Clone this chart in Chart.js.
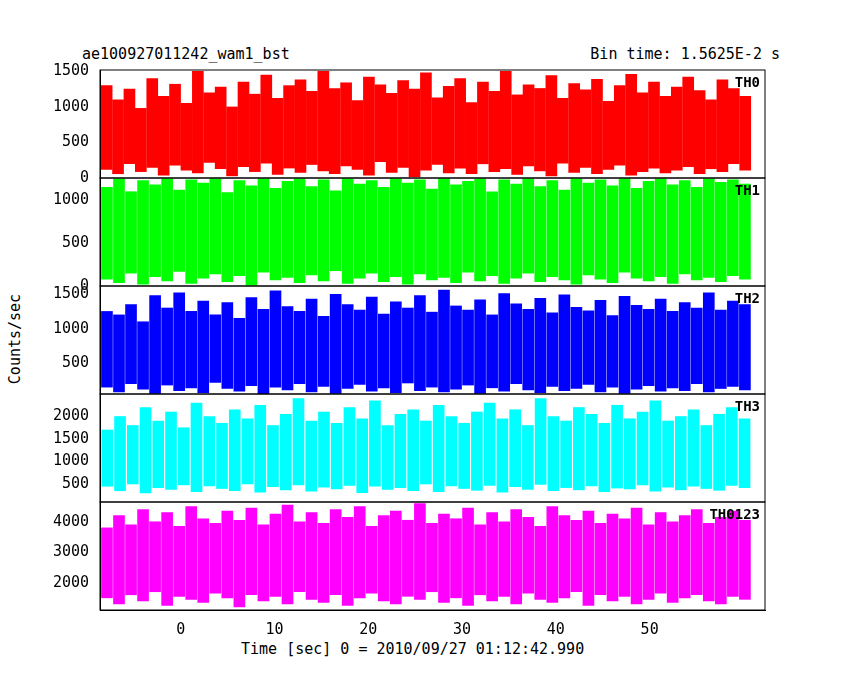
<!DOCTYPE html><html><head><meta charset="utf-8">
<script src="https://cdn.jsdelivr.net/npm/chart.js@4"></script>
<style>body{margin:0;background:#fff;width:850px;height:680px;position:relative;overflow:hidden;font-family:"DejaVu Sans Mono",monospace}
.t{position:absolute;font-size:15px;color:#000;white-space:nowrap}</style></head><body>
<div class="t" style="left:82px;top:45px">ae100927011242_wam1_bst</div>
<div class="t" style="right:70px;top:45px">Bin time: 1.5625E-2 s</div>
<div class="t" style="left:241px;top:640px">Time [sec] 0 = 2010/09/27 01:12:42.990</div>
<div class="t" style="left:-30px;top:330px;transform:rotate(-90deg)">Counts/sec</div>
<canvas id="c" width="850" height="680" style="position:absolute;left:0;top:0"></canvas>
<script>
const panelNames=["TH0","TH1","TH2","TH3","TH0123"];
const colors=["#ff0000","#00ff00","#0000ff","#00ffff","#ff00ff"];
const yMin=[0,0,50,100,1100], yMax=[1520,1260,1620,2500,4650];
const yTicks=[[0,500,1000,1500],[0,500,1000],[500,1000,1500],[500,1000,1500,2000],[2000,3000,4000]];
const tStart=-8.5, tEnd=60.8;
const th0=[1300,120,1100,60,1250,200,980,90,1400,150,1150,40,1320,180,1050,110,1500,70,1200,220,1280,130,1000,30,1350,160,1180,90,1450,210,1120,50,1300,140,1380,80,1220,190,1500,100,1260,60,1340,170,1090,120,1420,40,1310,230,1190,80,1370,150,1250,20,1480,110,1130,190,1290,70,1400,140,1060,60,1350,200,1220,90,1500,130,1170,50,1310,170,1260,100,1440,30,1120,210,1330,80,1240,150,1390,60,1080,120,1300,180,1460,40,1200,90,1350,140,1150,70,1280,110,1420,160,1230,60,1100,130,1380,90,1260,200,1150,110];
const th1=[1150,80,1250,40,1100,150,1230,20,1180,110,1250,60,1120,170,1240,30,1200,90,1250,140,1090,50,1230,120,1170,10,1250,160,1140,70,1220,100,1250,40,1160,130,1240,60,1110,180,1250,30,1190,90,1230,150,1150,50,1250,110,1200,20,1240,140,1130,70,1250,100,1180,40,1220,160,1250,60,1100,120,1240,30,1190,90,1250,150,1160,50,1230,110,1120,70,1250,20,1200,130,1240,80,1170,40,1250,160,1140,90,1220,60,1250,110,1180,30,1230,140,1150,70,1250,100,1210,50,1240,120,1190,80];
const th2=[1250,150,1200,80,1350,200,1100,120,1480,60,1300,180,1520,100,1250,140,1400,70,1200,220,1380,130,1150,90,1450,170,1280,50,1550,150,1320,110,1250,200,1430,80,1180,160,1500,60,1350,130,1270,190,1460,90,1210,140,1390,70,1300,210,1480,100,1240,150,1560,80,1330,120,1270,180,1420,60,1200,140,1510,90,1360,200,1280,110,1440,70,1230,160,1490,100,1310,130,1260,190,1410,80,1190,150,1470,60,1340,120,1280,170,1430,90,1250,140,1380,100,1300,200,1520,80,1270,130,1400,160,1350,110];
const th3=[1700,450,2000,350,1800,500,2200,300,1900,420,2100,380,1750,480,2300,330,2000,460,1850,400,2150,350,1950,500,2250,320,1800,440,2050,370,2400,480,1900,340,2100,430,1850,390,2200,470,1950,310,2350,450,1800,380,2050,420,2150,350,1900,500,2250,330,2000,460,1850,400,2100,360,2300,470,1950,320,2150,440,1800,380,2400,490,2000,350,1900,420,2200,370,2050,460,1850,330,2250,410,1950,390,2100,480,2350,340,1900,430,2000,370,2150,450,1800,400,2050,360,2200,470,1950,420];
const th0123=[3800,1500,4200,1300,3900,1600,4400,1400,4000,1700,4300,1250,3850,1550,4500,1450,4100,1350,3950,1650,4350,1500,4050,1200,4450,1600,3900,1400,4250,1550,4550,1300,4000,1700,4300,1450,3950,1350,4400,1600,4150,1250,4500,1500,3850,1650,4200,1400,4350,1300,4050,1550,4600,1450,3950,1700,4250,1350,4100,1500,4450,1250,3900,1600,4300,1400,4000,1550,4400,1300,4150,1650,3850,1450,4500,1350,4200,1500,4050,1700,4350,1250,3950,1600,4250,1400,4100,1550,4450,1300,3900,1450,4300,1650,4000,1350,4200,1500,4400,1600,3950,1400,4150,1300,4350,1550,4050,1450];
const series=[th0,th1,th2,th3,th0123];
const datasets=series.map((s,i)=>{const n=s.length/2;const d=[];for(let j=0;j<n;j++){d.push({x:tStart+(tEnd-tStart)*(j+0.5)/n,y:[s[2*j+1],s[2*j]]});}
 return {type:'bar',data:d,backgroundColor:colors[i],borderWidth:0,barThickness:11,grouped:false,yAxisID:'y'+i};});
const F={family:'DejaVu Sans Mono',size:15};
const scales={x:{type:'linear',min:-8.6,max:62.3,offset:false,grid:{display:false},border:{color:'#000'},ticks:{color:'#000',font:F,stepSize:10,callback:v=>v%10===0?v:''},afterFit:s=>{s.height=70}}};
for(let i=4;i>=0;i--){scales['y'+i]={type:'linear',stack:'v',stackWeight:1,min:yMin[i],max:yMax[i],offset:false,grid:{display:false},border:{color:'#000'},
 afterBuildTicks:(s)=>{s.ticks=yTicks[i].map(v=>({value:v}))},ticks:{color:'#000',font:F,autoSkip:false,callback:v=>String(v)},afterFit:s=>{s.width=100}};}
const boxes={id:'boxes',afterDraw(ch){const c=ch.ctx;c.save();c.strokeStyle='#000';c.lineWidth=1;c.fillStyle='#000';c.font='bold 14px "DejaVu Sans Mono"';c.textAlign='right';c.textBaseline='top';
 const x=ch.scales.x;for(let i=0;i<5;i++){const y=ch.scales['y'+i];c.strokeRect(x.left,y.top,x.right-x.left,y.bottom-y.top);c.fillText(panelNames[i],x.right-5,y.top+6);}c.restore();}};
new Chart(document.getElementById('c'),{type:'bar',data:{datasets},options:{responsive:false,animation:false,layout:{padding:{top:70,right:85,left:0,bottom:0}},plugins:{legend:{display:false},tooltip:{enabled:false}},scales},plugins:[boxes]});
</script></body></html>
